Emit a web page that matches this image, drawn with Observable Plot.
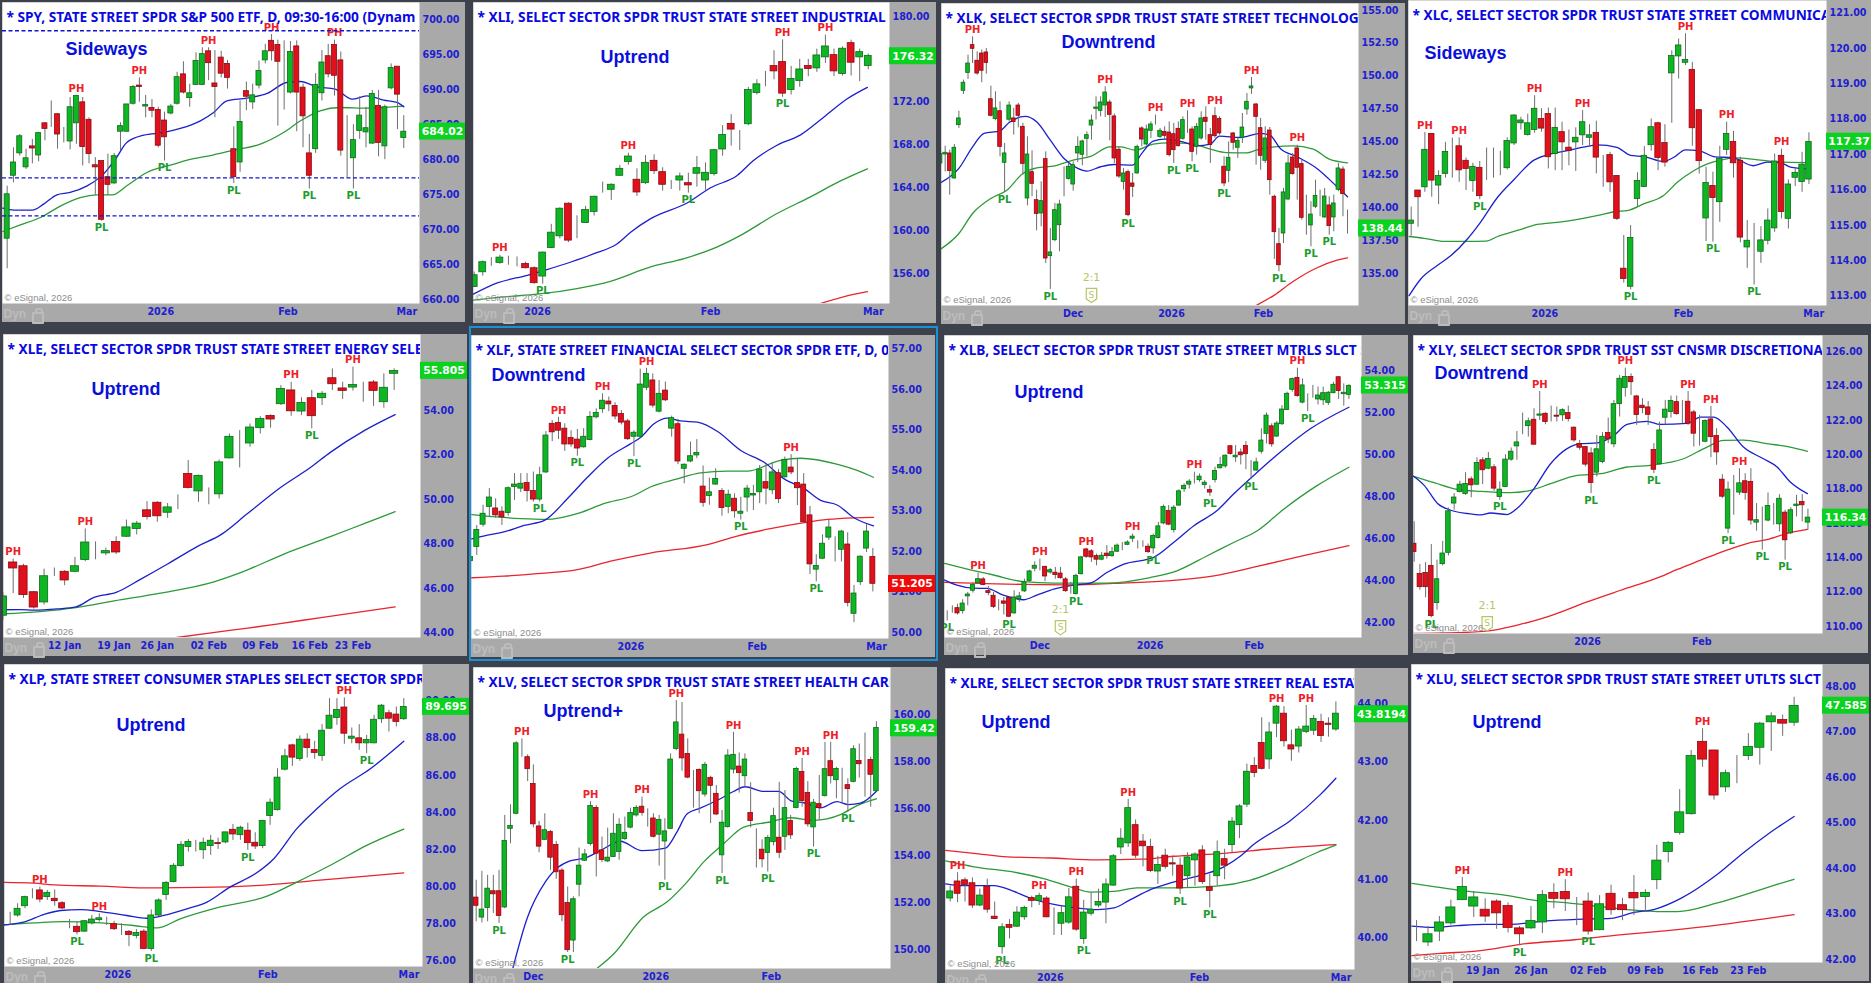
<!doctype html>
<html><head><meta charset="utf-8">
<script src="https://cdn.jsdelivr.net/npm/d3@7"></script>
<script src="https://cdn.jsdelivr.net/npm/@observablehq/plot@0.6"></script>
<style>
html,body{margin:0;padding:0;background:#3c414c;width:1871px;height:983px;overflow:hidden}
.panel{position:absolute}
.panel svg{display:block}
.panel g[aria-label="y-axis tick label"],.panel g[aria-label="x-axis tick label"]{fill:#2020d0;font:bold 9.6px "DejaVu Sans";}
.lock{position:absolute;width:8px;height:8px;border:2px solid #bcbcbc;border-radius:1px}
.lock:before{content:"";position:absolute;left:1px;top:-6px;width:4px;height:4px;border:2px solid #bcbcbc;border-bottom:none;border-radius:3px 3px 0 0}
.sel{position:absolute;left:469px;top:326px;width:465px;height:331px;border:2.5px solid #1d8fd6;pointer-events:none}
</style></head><body><div id="root"></div>
<script>
// [open, high, low, close] per session
const spyCandles=[[668.7,676.2,664.4,675.05],[677.7,681.7,676.7,679.6],[680.9,683.6,680.5,683.35],[678.9,681.5,678.6,680.2],[681.9,682.9,679.4,681.6],[680.6,683.9,679.7,683.8],[685.2,685.3,682.7,684.4],[685.65,688.4,684.6,685.65],[686.5,686.6,681.5,683.6],[683.05,684.6,682.4,683.05],[682.6,688.9,681.4,687.5],[685.2,689.2,682.2,689.1],[688.2,688.9,679.1,681.8],[685.7,686,679.4,680.8],[679.2,680.3,674.9,678.9],[679.8,679.8,671.2,671.4],[677.5,680.8,674.9,676.4],[676.6,680.9,676.5,680.5],[684,685.3,681.3,684.8],[684,687.9,683.9,687.9],[688,690.6,687.8,690.4],[690.6,691.7,688.2,690.4],[687.6,689.2,686,687.8],[687.4,688.6,686,687],[687.1,687.5,681.7,682],[685.6,686.8,679.8,683.2],[686.6,687.9,686.4,687.6],[688,692.5,687.8,691.8],[692.2,694,689.4,689.6],[688.8,690.8,687.5,689.5],[690.7,695.3,690.6,694.1],[690.7,696,690.6,695.1],[695.5,696,691.3,693.8],[690.9,695.6,686,690.4],[694.6,695.5,691.7,692.3],[693.7,694.2,690.1,691.7],[681.5,684.7,676.6,677.5],[679.6,688.4,678.2,685.4],[689.8,691.1,687,689],[688.2,690.8,687.2,689.2],[690.6,694.1,690.1,692.7],[694.2,696.5,693.7,695.5],[697,697.9,694.1,695.5],[696.4,697.1,684.8,694],[691.85,697,687.1,691.85],[689.6,696.9,689.4,695.4],[696.2,697,684,689.6],[690.3,690.8,681.7,686.2],[680.9,683.6,675.8,677.7],[681.5,692.3,680.9,690.7],[689.5,695.6,688.4,693.9],[694.8,696.5,691.7,692.2],[696.4,697.1,689.1,692],[694.2,695.4,680.5,681.3],[681.65,686.3,677.4,681.65],[680.2,685,675.8,682.8],[684.1,689,682.9,686.3],[683.9,687.5,681.7,684.5],[682.3,689.9,682.2,689.4],[687.7,689.9,680.4,682.4],[681.9,687.8,680,687.5],[690.2,693.7,690,693.1],[693.3,693.3,684.3,689.3],[683.1,686.3,681.6,684]];
const xliCandles=[[154.75,156.15,154.69,155.84],[156.12,157.18,155.75,157.06],[157.02,157.49,156.68,157.02],[157,157.71,156.87,157.49],[157.33,157.62,156.78,157.33],[156.93,157.55,156.62,156.93],[156.9,157.06,156.43,156.5],[156.5,156.62,155,155.1],[155.72,158.02,155,157.96],[158.39,160.6,158.33,159.82],[159.48,162.15,159.23,162.06],[162.53,162.62,158.89,159.08],[160.13,161.4,159.26,160.13],[160.72,162.28,160.72,161.94],[161.75,163.24,161.38,163.18],[164.02,164.55,163.52,164.02],[163.83,164.39,162.84,164.3],[165.14,166.1,165.08,165.79],[166.44,167.25,166.13,166.94],[164.77,165.79,163.21,163.58],[164.45,167.03,164.33,166.35],[166.54,167.1,165.26,165.57],[165.48,165.89,163.71,164.3],[164.33,164.7,163.86,164.33],[164.7,165.39,163.71,165.08],[164.45,165.39,163.52,164.24],[165.33,166.94,164.08,165.85],[164.7,166.35,163.77,165.42],[165.3,167.6,165.11,167.53],[167.6,169.83,166.97,168.96],[169.99,170.86,167.91,169.46],[168.37,169.37,167.5,168.37],[169.96,173.41,169.83,173.16],[172.88,174.12,172.69,173.69],[173.88,174.9,173.47,173.88],[175.4,176.83,174.12,174.9],[175.77,177.85,172.48,172.82],[173.16,175.37,172.69,174.19],[174,176.02,173.41,175.08],[175.4,176.02,174.4,175.12],[175.18,176.98,174.81,176.39],[176.21,178.29,175.65,177.23],[176.42,176.98,174.4,174.9],[174.65,177.2,174.47,177.02],[177.54,177.82,174.47,175.71],[176.21,176.98,173.94,176.7],[175.4,176.52,175.06,176.33]];
const xlkCandles=[[143.38,144.52,143.25,144.09],[144.06,144.69,142.74,144.19],[144.14,144.39,140.97,142.8],[142.24,144.82,142.19,144.57],[146.29,147.35,146.04,146.8],[148.9,149.71,148.62,149.51],[150.26,151.61,149.76,150.97],[152.37,153,150.97,152.09],[151.18,151.86,150.09,150.21],[151.73,151.99,149.51,150.42],[151.81,152.11,150.16,151.02],[148.26,149.25,146.92,147],[146.75,148.82,146.62,147.56],[147.35,148.06,143.88,144.64],[143.43,144.9,141.18,144.14],[146.7,148.06,146.52,147.78],[146.8,147.56,145.53,146.52],[147.78,147.94,146.09,147],[146.16,146.42,142.49,143.35],[140.72,145.4,140.16,144.06],[142.72,144.34,140.85,141.83],[140.59,141.35,138.26,139.55],[139.58,141.99,138.57,140.52],[143.71,144.26,135.78,136.16],[136.34,138.44,133.81,136.62],[137.55,140.34,137.43,139.83],[138.69,140.59,136.67,140.26],[141.88,143.13,140.85,141.88],[142.21,143.38,142.11,143.13],[141.78,143.5,141.27,143.25],[144.14,145.4,143.45,144.64],[144.04,145.15,143.2,145.05],[145.25,145.78,143.88,145.53],[146.26,147.05,145.15,146.64],[147.53,148.44,146.67,147.63],[147.38,148.44,146.92,148.01],[147.78,149.2,146.87,148.77],[148.01,148.19,145.1,147.07],[146.95,147.13,143.38,143.76],[144.42,144.64,142.24,142.39],[141.98,143,141.35,142.62],[142.72,142.87,139.33,139.45],[141.86,142.62,140.8,141.61],[142.62,144.77,142.57,144.64],[146.04,146.16,144.64,145.2],[144.82,146.29,144.7,145.96],[145.86,146.54,145.28,146.34],[146.62,147.05,146.29,146.62],[145.4,146.04,145.28,145.86],[145.78,146.16,145.15,145.48],[145.73,146.54,143.88,144.01],[145.6,146.42,143.38,144.39],[146.01,146.54,144.64,144.69],[145.25,146.92,145.15,146.67],[146.52,147.38,145.66,146.52],[145.96,146.16,143.5,144.26],[144.64,146.42,144.01,146.16],[145.28,147.3,145.15,146.8],[146.85,147.68,145.15,146.54],[145.53,146.04,143.38,144.77],[146.97,147.63,145.28,145.45],[146.75,146.92,145.53,145.66],[143.13,143.88,141.61,141.86],[142.82,145.02,141.91,143.81],[145.66,145.73,144.39,144.95],[144.57,145.28,143.76,145.1],[145.33,147.18,144.9,146.11],[147.48,148.69,147.05,148.06],[149.08,149.91,148.62,149.23],[147.86,147.94,143.25,146.92],[146.06,146.8,142.87,143.96],[143.58,146.16,143.38,145.28],[145.88,146.11,140.97,142.11],[140.85,140.97,136.09,138.16],[137.25,138.44,135.15,135.65],[138.06,141.48,137.3,141.18],[140.64,144.01,140.59,143.38],[143.83,144.14,142.49,142.57],[144.52,144.77,140.59,143.05],[143.33,143.63,139.07,139.25],[139.58,140.97,137.93,139.58],[138.67,140.47,137.05,139.5],[140.09,142.11,139.96,140.92],[140.21,141.35,139.33,140.21],[139.28,141.48,139.2,140.87],[140.19,140.85,137.93,138.62],[139.28,140.97,138.19,140.34],[141.38,143.38,141.23,143],[142.92,143.13,139.33,141.05],[138.44,139.84,138.01,138.44]];
const xlcCandles=[[115.05,115.52,114.7,115.14],[115.99,115.99,114.95,115.8],[116.08,117.63,115.94,117.14],[117.59,117.59,115.8,116.27],[116.13,116.55,115.59,116.4],[116.46,117.35,116.34,117.08],[116.85,117.47,116.34,116.85],[117.24,117.48,116.22,116.56],[116.83,116.91,115.99,116.6],[116.26,116.76,115.94,116.66],[116.63,116.81,115.73,115.83],[116.47,117.19,116.27,116.47],[116.54,117.19,116.34,116.54],[116.69,117.1,116.41,116.69],[116.62,117.48,116.57,117.39],[117.32,118.13,117.26,118.11],[117.89,118.06,117.7,117.97],[117.56,118.15,117.53,117.89],[117.7,118.67,117.61,118.3],[118.01,118.3,117.64,117.74],[118.15,118.32,116.6,116.93],[117.02,118.32,116.55,117.76],[117.64,117.92,116.55,117.35],[117.2,117.7,116.69,117.11],[117.35,117.76,116.53,117.48],[117.55,118.25,117.26,117.92],[117.48,117.85,117.21,117.55],[117.62,117.95,116.46,116.92],[116.67,116.98,116.08,116.67],[116.99,117.07,115.94,116.22],[116.4,116.41,115.14,115.19],[113.78,114.72,113.37,113.49],[113.27,115,113.18,114.65],[115.75,116.49,115.52,116.26],[116.09,117.23,116.08,116.97],[117.27,118.01,117.1,117.78],[117.89,117.92,116.55,116.91],[117.33,117.85,116.65,116.78],[119.3,119.94,117.89,119.79],[119.78,120.27,119.14,120.09],[119.6,120.42,119.52,119.68],[119.4,119.61,117.24,117.75],[118.26,118.27,116.46,116.82],[115.2,116.65,114.55,116.2],[116.12,116.51,114.53,115.78],[115.66,117.24,115.09,116.88],[117.14,117.92,116.98,117.59],[117.36,117.66,116.34,116.76],[116.83,116.93,114.51,114.66],[114.38,115.14,113.79,114.57],[114.39,115.06,113.32,114.39],[114.26,114.97,113.93,114.58],[114.57,115.47,114.45,115.14],[114.92,117.02,114.81,116.81],[116.97,117.16,115.19,115.38],[115.19,116.29,114.9,116.16],[116.35,116.6,116.1,116.49],[116.23,117.07,115.94,116.72],[116.3,117.62,116.16,117.36]];
const xleCandles=[[44.77,45.82,44.54,45.64],[47.17,47.32,45.77,46.9],[47,47.09,45.55,45.7],[45.83,45.86,45.07,45.14],[45.37,46.87,45.25,46.55],[46.74,46.92,46.54,46.74],[46.75,46.8,46.12,46.36],[46.75,47.4,46.72,47],[47.28,48.68,47.2,48.07],[47.62,48.1,47.29,47.62],[47.58,47.82,47.47,47.68],[48.09,48.33,47.53,47.62],[48.33,49.08,48.3,48.75],[48.68,49.02,48.41,48.92],[49.52,49.91,49.08,49.22],[49.86,49.91,48.98,49.25],[49.41,49.83,49.16,49.65],[50.04,50.22,49.55,50.04],[51.16,51.76,50.48,50.53],[50.37,51.11,49.88,51.07],[50.09,50.53,49.77,50.09],[50.24,51.79,50.03,51.68],[51.86,52.96,51.83,52.83],[52.27,53.11,51.43,52.27],[52.53,53.41,52.36,53.25],[53.22,53.74,52.96,53.64],[53.77,53.82,53.22,53.61],[54.3,55.14,54.24,54.99],[54.92,55.29,53.76,53.98],[53.97,54.59,53.79,54.36],[54.57,54.92,53.19,53.76],[54.57,54.87,54.24,54.77],[55.47,55.89,54.92,55.2],[55.01,55.29,54.51,54.9],[55.05,55.97,54.89,55.17],[55.1,55.29,54.39,55.1],[55.28,55.37,54.2,54.9],[54.39,55.67,54.12,55.04],[55.67,55.89,54.92,55.8]];
const xlfCandles=[[51.77,51.95,51.73,51.87],[52.12,52.65,51.91,52.54],[52.67,53.15,52.61,52.94],[53.11,53.56,52.86,53.34],[53.07,53.31,52.83,52.9],[52.99,53.11,52.65,52.85],[52.96,53.6,52.88,53.57],[53.6,53.93,53.27,53.66],[53.56,53.93,53.46,53.68],[53.7,53.93,53.23,53.5],[53.5,53.97,53.23,53.29],[53.29,54.09,53.23,53.89],[53.96,54.97,53.93,54.87],[55.16,55.24,54.72,54.95],[55.18,55.32,54.77,54.99],[55.04,55.16,54.48,54.65],[54.81,54.99,54.58,54.65],[54.77,55.02,54.36,54.55],[54.58,55.04,54.56,54.84],[54.76,55.46,54.74,55.33],[55.32,55.53,55.28,55.43],[55.52,55.9,55.42,55.73],[55.71,55.82,55.46,55.64],[55.6,55.68,55.26,55.34],[55.4,55.49,55.13,55.19],[55.22,55.27,54.75,54.78],[54.84,54.99,54.35,54.94],[54.84,56.51,54.81,56.13],[56.05,56.53,55.98,56.39],[56.23,56.39,55.55,55.61],[55.46,56.23,55.43,55.9],[55.98,56.19,55.71,55.74],[55.04,55.35,54.83,55.3],[55.15,55.27,54.15,54.23],[54.05,54.17,53.68,54.15],[54.23,54.71,54.2,54.36],[54.38,54.77,54.3,54.44],[53.61,54.12,53.1,53.21],[53.38,53.82,53.15,53.47],[53.66,54.05,53.64,53.8],[53.5,53.56,52.88,53.08],[53.11,53.52,52.94,53.41],[53.31,53.43,52.83,53],[52.94,53.35,52.78,52.99],[53.34,53.64,52.98,53.56],[53.39,53.64,53.02,53.43],[53.47,54.13,53.19,54.03],[53.72,54.15,53.16,53.56],[53.52,54.2,53.41,53.96],[53.94,54.03,53.19,53.3],[53.84,54.34,53.82,54.27],[54.08,54.4,53.9,53.96],[53.7,54.28,53.14,53.57],[53.66,53.93,52.71,52.73],[52.9,53.12,51.44,51.69],[51.56,51.93,51.26,51.65],[51.83,52.42,51.81,52.2],[52.35,52.78,52.28,52.6],[52.15,52.37,51.75,52.15],[52.05,52.53,51.75,52.5],[52.18,52.47,50.64,50.74],[50.47,51.17,50.25,50.97],[51.25,51.9,51.17,51.88],[52.08,52.67,51.98,52.5],[51.87,52.08,51.01,51.21]];
const xlbCandles=[[42.33,42.57,42.09,42.33],[42.6,42.81,42.46,42.6],[42.7,42.89,42.37,42.45],[42.56,43.1,42.41,42.92],[43.26,43.45,42.81,43.35],[43.53,43.93,43.42,43.8],[43.89,44.37,43.85,44.08],[44.07,44.16,43.77,43.8],[43.51,43.74,43.29,43.42],[43.29,43.45,42.68,42.76],[42.76,43.1,42.57,42.76],[43.02,43.21,42.37,42.91],[43.19,43.21,42.25,42.29],[42.45,43.53,42.41,43.21],[43.13,43.45,42.97,43.26],[43.5,44.08,43.45,43.93],[43.99,44.51,43.93,44.45],[44.58,44.91,44.43,44.72],[44.64,45.04,44.48,44.64],[44.67,44.69,43.96,44.21],[44.4,44.59,44.32,44.51],[44.39,44.64,44.08,44.28],[44.35,44.64,44.08,44.13],[44.07,44.16,43.45,43.51],[43.45,43.93,43.37,43.45],[43.37,44.32,43.32,44.24],[44.32,45.17,44.28,45.12],[45.5,45.55,45.07,45.15],[45.41,45.49,44.88,45.12],[45.18,45.28,44.72,45.01],[45.01,45.36,44.96,45.2],[45.3,45.68,45.04,45.18],[45.18,45.6,45.12,45.37],[45.39,45.76,45.36,45.68],[45.77,45.83,45.44,45.77],[45.72,45.91,45.68,45.83],[46.01,46.23,45.83,46.11],[45.76,45.91,45.52,45.76],[45.79,45.91,45.6,45.79],[45.63,45.76,45.31,45.37],[45.55,46.23,45.28,46.14],[46.04,46.79,45.99,46.6],[46.74,47.62,46.68,47.52],[47.33,47.59,46.63,46.68],[46.42,47.59,46.28,47.49],[47.59,48.35,47.55,48.27],[48.37,48.62,48.22,48.53],[48.59,48.83,48.38,48.73],[48.73,49.18,48.62,48.73],[48.8,49.1,48.7,48.97],[48.57,48.78,48.38,48.68],[48.33,48.54,48.03,48.21],[48.81,49.42,48.67,49.24],[49.37,49.89,49.34,49.53],[49.46,50,49.37,49.97],[50.42,50.45,50,50.05],[49.89,50.45,49.65,49.97],[50.12,50.29,49.53,49.99],[50.43,50.64,49.3,50.04],[49.26,49.74,48.83,49.26],[49.26,49.85,49.23,49.65],[50.16,51.25,50.05,50.69],[51.01,52.01,50.53,51.88],[51.37,51.49,50.37,50.51],[50.88,51.6,50.85,51.5],[51.47,52.36,51.41,52.17],[52.15,53,52.12,52.92],[53.11,53.67,53,53.62],[53.68,54.14,52.76,52.81],[52.5,53.63,52.44,53.32],[52.73,52.92,52.07,52.73],[53.01,53.32,52.71,53.01],[52.65,53.24,52.39,52.84],[52.61,53.24,52.36,52.95],[52.49,53.03,52.36,52.97],[52.95,53.47,52.92,53.35],[53.71,53.75,52.65,53.05],[52.9,53.39,52.33,52.97],[52.87,53.35,52.65,53.3]];
const xlyCandles=[[114.82,116.1,113.74,114.34],[113.06,113.61,112.11,112.29],[113.12,113.72,111.67,112.29],[113.53,114.77,110.5,110.6],[111.36,113.86,110.95,112.75],[113.63,114.96,113.53,114.25],[114.29,116.9,114.11,116.71],[117.16,117.74,116.77,117.51],[117.83,118.46,117.78,118.26],[117.72,118.96,117.64,118.3],[118.57,118.71,117.5,118.22],[118.26,119.83,118.22,119.52],[119.68,119.83,118.26,119.1],[119.19,120.13,119.13,119.76],[119.27,119.42,117.87,118.03],[117.54,118.42,117.35,117.97],[118.13,120,118.09,119.72],[119.72,120.4,119.62,120.18],[120.49,121.36,119.68,120.72],[121.73,122.43,121.17,121.73],[121.67,122.14,121.03,121.95],[122.04,122.68,120.55,120.59],[122.28,123.69,122,122.35],[122.39,122.45,121.75,121.91],[122.35,122.84,121.91,122.35],[122.28,122.78,121.91,122.22],[122.3,122.68,121.95,122.6],[122.43,122.84,121.91,122.08],[121.58,121.62,120.74,120.84],[120.63,120.84,120.26,120.41],[120.45,120.45,119.29,119.43],[120.08,120.4,117.74,118.36],[118.96,121.13,118.71,120.32],[119.58,121.29,119.48,121.05],[121.27,122.14,120.65,120.9],[120.61,123.17,120.41,122.95],[122.95,124.62,122.2,124.43],[123.9,125.05,123.36,124.53],[124.53,124.72,123.46,124.23],[123.4,123.46,121.71,122.32],[122.86,123.27,122.39,122.72],[122.76,123.11,121.71,122.33],[120.28,120.65,118.9,119.13],[119.45,121.9,119.39,121.42],[122.16,123.17,121.75,122.63],[122.49,123.42,122.14,123.13],[123.07,123.42,122.3,122.37],[122.76,123.17,121.81,122.76],[123.09,123.69,121.71,121.81],[122.47,122.59,120.45,121.23],[121.27,122.3,120.51,121.27],[120.76,122.04,120.7,121.97],[122.06,122.82,119.83,121.03],[121.09,121.52,119.39,120.14],[118.55,118.84,117.45,117.56],[115.7,118.42,115.41,117.97],[117.52,118.8,116.48,117.52],[117.8,119.19,117.64,118.34],[118.46,118.9,117.35,117.78],[118.42,119.19,115.9,116.17],[116.05,117.16,115.55,116.19],[116.05,116.96,114.44,116.05],[116.17,117.78,116.09,117.02],[116.34,117.16,115.9,116.34],[115.95,117.68,115.51,117.44],[116.63,116.77,113.86,115.02],[115.43,116.92,115.35,116.77],[117.02,117.64,116.38,117.1],[117.25,117.68,116.09,117.06],[116.05,116.83,115.6,116.34]];
const xlpCandles=[[78.21,78.63,77.91,78.21],[78.45,79.08,78.36,78.81],[78.95,79.49,78.81,79.44],[79.65,79.89,79.35,79.65],[79.8,79.98,79.13,79.31],[79.44,79.8,79.26,79.67],[79.35,79.83,78.95,79.22],[79.11,79.2,78.77,78.83],[77.98,78.23,77.73,77.98],[77.84,78.09,77.4,77.55],[77.58,78.18,77.55,78.14],[78.02,78.45,77.94,78.23],[78.2,78.54,78.09,78.3],[78.18,78.36,77.91,78.18],[77.98,78.14,77.64,77.71],[77.71,78,77.37,77.71],[77.57,77.64,76.77,77.4],[77.35,77.69,77.19,77.51],[77.58,77.69,76.61,76.65],[76.65,78.75,76.51,78.45],[78.45,79.35,78.39,79.26],[79.56,80.28,79.26,80.21],[80.25,81.24,80.21,81.13],[81.11,82.44,81.06,82.26],[82.14,82.55,81.87,82.41],[82.21,82.5,81.87,82.21],[81.97,82.62,81.47,82.37],[82.19,82.77,81.69,82.48],[82.35,82.62,82.01,82.3],[82.39,82.94,82.32,82.93],[83.07,83.36,82.5,82.82],[82.78,83.27,82.5,83.18],[83.02,83.43,81.96,82.35],[82.37,82.91,82.01,82.17],[82.19,83.58,82.05,83.54],[83.81,84.74,83.31,84.53],[84.13,86.36,84.08,85.88],[86.31,87.41,86.24,87.03],[87.62,87.68,86.49,86.96],[86.89,88.13,86.76,87.93],[87.93,88.25,86.94,87.48],[87.37,87.84,86.87,87.21],[87.05,88.74,86.76,88.41],[88.52,90.14,88.49,89.22],[89.1,90.14,88.7,89.53],[89.66,90.18,87.68,88.25],[87.98,88.56,87.71,88.09],[88,88.74,87.35,87.73],[87.73,88.16,87.17,87.91],[87.73,89.24,87.71,89],[89.03,89.82,88.8,89.76],[89.35,89.51,88.34,89.06],[89.28,89.69,88.61,88.88],[89.03,90.14,88.97,89.69]];
const xlvCandles=[[152.21,152.95,151.18,151.86],[151.36,153.33,151.13,151.7],[151.77,153.16,151.18,152.59],[152.48,153.16,151.53,152.35],[152.48,153.37,151.11,151.43],[151.79,155.71,151.74,154.62],[155.14,156.16,154.5,155.26],[155.78,158.85,155.74,158.78],[158.41,158.97,158.19,158.41],[158.19,158.29,157.15,157.68],[157.05,157.86,155.18,155.33],[155.24,155.45,154.12,154.38],[154.67,155.78,154.65,155.08],[155,155.07,153.37,153.91],[154.45,154.6,152.99,153.29],[153.36,153.44,151.18,151.46],[151.98,152.66,149.87,149.97],[150.38,152.24,149.87,152.14],[152.76,154.32,152.24,153.57],[153.78,154.26,153.75,154.05],[154.49,156.3,154.41,156.11],[156.03,156.13,153.09,154.08],[154.22,154.79,153.7,153.81],[153.75,155.17,153.7,153.91],[153.94,155.78,153.92,154.93],[154.15,155.57,153.8,155.31],[154.7,155.64,154.65,154.97],[155.19,156.02,155.14,155.81],[155.71,156.13,155.64,156.03],[156.08,156.49,155.68,155.82],[155.67,155.99,155.21,155.67],[155.58,155.78,154.75,154.8],[154.89,155.71,153.55,155.52],[154.6,155.57,152.95,155.03],[155.14,158.33,155.11,158.09],[158.54,160.6,158.47,159.67],[159.15,160.52,157.59,158.14],[158.33,158.97,157.27,157.32],[157.38,157.62,156.02,157.38],[157.65,157.69,155.78,156.74],[156.6,157.97,156.49,157.86],[157.31,157.38,155.36,156.97],[156.63,156.98,155.71,155.75],[154.01,155.92,153.23,155.4],[155.21,158.51,155.17,158.26],[157.66,159.25,157.48,158.29],[157.79,158.37,156.66,157.51],[157.38,158.33,156.91,158.09],[155.81,157.1,155.18,155.47],[154.29,155.14,153.47,154.29],[154.25,154.67,153.48,153.84],[154.11,154.86,153.3,154.75],[154.57,156.02,154.41,155.68],[154.76,157.12,153.87,154.12],[154.8,156.77,154.22,156.02],[155.47,155.71,154.69,154.86],[156.03,157.76,155.99,157.69],[157.56,158.14,156.06,156.32],[156.67,157.15,155.21,155.33],[155.2,156.39,154.36,156.25],[156.19,157.41,155.5,156.02],[156.54,158.82,156.49,157.68],[158.02,158.82,157.05,157.38],[157.21,157.76,156.42,157.69],[157.24,157.72,156.2,157.24],[157,157.27,155.85,156.83],[157.14,158.68,157.1,158.53],[158.03,158.75,157.3,157.89],[157.86,159.22,156.49,157.86],[158.07,158.19,156.06,157.44],[156.74,159.7,156.73,159.43]];
const xlreCandles=[[40.68,40.89,40.62,40.8],[40.97,41.12,40.61,40.76],[40.99,41.03,40.62,40.91],[40.94,41.03,40.51,40.56],[40.56,40.84,40.54,40.73],[40.88,41.01,40.43,40.49],[40.37,40.62,40.32,40.33],[39.85,40.25,39.73,40.19],[40.23,40.32,39.99,40.18],[40.2,40.54,40.19,40.44],[40.36,40.55,40.31,40.52],[40.69,40.72,40.52,40.64],[40.64,40.77,40.56,40.72],[40.68,40.71,40.35,40.36],[40.37,40.52,40.05,40.37],[40.25,40.55,40.05,40.43],[40.27,40.85,40.24,40.7],[40.88,41.01,40.12,40.15],[39.99,40.65,39.9,40.44],[40.42,40.78,40.38,40.49],[40.56,40.84,40.52,40.62],[40.61,41.01,40.25,40.92],[40.9,41.43,40.89,41.4],[41.55,41.87,41.43,41.7],[41.62,42.37,41.55,42.22],[41.93,42.02,41.36,41.41],[41.65,41.77,41.22,41.57],[41.56,41.69,41.12,41.15],[41.14,41.4,40.92,41.25],[41.41,41.52,41.18,41.22],[41.28,41.4,41.06,41.26],[41.24,41.37,40.75,40.85],[41.06,41.46,40.85,41.38],[41.33,41.46,40.89,41.43],[41.5,41.58,40.92,40.96],[40.87,41.09,40.52,40.81],[41.06,41.66,40.89,41.47],[41.35,41.52,41,41.24],[41.59,42.06,41.46,41.99],[41.93,42.28,41.7,42.25],[42.28,42.97,42.23,42.84],[42.94,43.08,42.74,42.82],[43.33,43.76,42.87,42.89],[43.05,43.68,42.88,43.51],[43.66,43.97,43.42,43.95],[43.83,43.95,43.26,43.36],[43.29,43.55,43.02,43.22],[43.27,43.61,43.16,43.56],[43.52,43.97,43.49,43.61],[43.54,43.8,43.46,43.74],[43.69,43.82,43.34,43.45],[43.66,43.76,43.43,43.64],[43.56,44.03,43.53,43.83]];
const xluCandles=[[42.49,42.86,42.4,42.49],[42.38,42.73,42.29,42.56],[42.62,42.95,42.4,42.82],[42.8,43.31,42.76,43.15],[43.31,43.81,43.3,43.6],[43.17,43.5,42.93,43.37],[43.1,43.34,42.82,42.95],[43.28,43.32,42.67,43.02],[43.18,43.25,42.59,42.7],[42.69,42.73,42.31,42.56],[42.69,43.17,42.67,42.85],[42.82,43.52,42.58,43.42],[43.47,43.67,43.12,43.34],[43.49,43.76,43.06,43.33],[43.23,43.37,42.75,43.23],[43.28,43.47,42.54,42.62],[42.65,43.41,42.64,43.22],[43.45,43.64,42.98,43.09],[43.2,43.35,42.86,43.09],[43.47,43.85,42.97,43.35],[43.38,43.54,43.04,43.47],[43.75,44.52,43.54,44.18],[44.37,44.6,44.13,44.57],[44.79,45.74,44.74,45.24],[45.2,46.6,45.18,46.48],[46.79,47.08,46.23,46.4],[46.6,46.6,45.51,45.61],[45.79,46.17,45.68,46.1],[46.32,46.49,45.87,46.32],[46.48,46.97,46.38,46.68],[46.66,47.22,46.28,47.19],[47.22,47.43,46.58,47.35],[47.27,47.38,46.91,47.19],[47.21,47.77,47.13,47.58]];

// moving averages: [session position, price]
const spyBlue=[[-0.7,673.06],[1.1,672.78],[4,672.78],[5.8,673.64],[7.9,674.97],[10,675.31],[12.7,676.26],[15.3,677.94],[17.2,680.07],[19,682.46],[21.7,683.51],[24.9,683.89],[27.5,684.46],[30.7,685.56],[32.8,686.75],[34.9,688.42],[38.1,688.8],[41.3,689.47],[44.4,691.04],[46.6,691.18],[49.2,690.42],[52.1,690.09],[54.8,688.65],[57.1,689.13],[59.8,688.51],[61.9,688.18],[63,687.56]];
const spyGreen=[[-0.7,669.73],[2.1,670.68],[5.3,671.73],[8.5,673.4],[11.6,674.59],[14.3,674.97],[16.7,674.97],[19,676.26],[22.2,678.17],[26.5,679.36],[28.6,679.93],[32.8,680.69],[36,681.36],[40.2,682.22],[43.9,683.89],[46.6,685.56],[49.7,686.99],[52.9,687.46],[57.2,687.37],[63,687.65]];
const xliBlue=[[-0.1,154.07],[2.7,155.12],[6.2,155.84],[8.5,156.37],[11.3,157.08],[14,157.86],[16.7,158.79],[18.3,159.88],[20.6,161.13],[24.9,162.62],[27.6,164.02],[30.7,165.17],[32.6,166.57],[35.3,167.97],[38.1,168.96],[40.8,170.61],[43.5,172.32],[45.9,173.41]];
const xliGreen=[[-0.1,153.51],[3.5,153.82],[7.4,154.07],[12,154.6],[15.9,155.28],[20.6,156.62],[24.5,157.4],[27.6,158.23],[31.1,159.57],[35.3,161.59],[39.2,163.15],[42.7,164.64],[45.9,165.79]];
const xliRed=[[40.4,153.2],[43.1,153.82],[45.9,154.3]];
const xlkBlue=[[0,141.91],[4,143],[7,144.64],[9.5,145.66],[13,145.86],[15,146.49],[18.5,146.95],[21,146.54],[24,145.15],[27,143.76],[30,143],[32,142.8],[35,143.13],[38,143.3],[42,143.25],[44,144.14],[46.5,145.08],[49,145.23],[53,145.02],[56,144.72],[59,144.85],[61,145.45],[65.5,145.35],[70,145.66],[72,145.53],[74.3,144.52],[78,143.88],[82.3,143],[86.7,141.61],[89,140.85]];
const xlkGreen=[[0,136.87],[4,138.06],[7,139.58],[11,140.72],[14.5,141.35],[18,142.62],[21,143.05],[25,143.2],[29,143.63],[33,143.94],[37,144.64],[39.5,144.64],[42.5,144.39],[46.5,144.85],[50,144.95],[54.5,144.9],[59,144.47],[62.5,144.21],[67,144.19],[69,144.39],[73,144.64],[77,144.72],[81.5,144.47],[85,143.71],[89,143.43]];
const xlkRed=[[69,132.59],[73,133.38],[77,134.39],[82,135.4],[86.7,136.03],[89,136.21]];
const xlcBlue=[[-0.3,113.02],[1.4,113.49],[3.8,113.87],[5.8,114.15],[8.2,114.62],[10.1,115.09],[12.6,115.8],[15,116.3],[17.9,116.85],[19.9,117],[22.8,117.12],[25.7,117.24],[27.1,117.28],[30,117.21],[32,116.98],[33.9,116.95],[36.8,116.81],[38.3,116.93],[40,117.14],[41.9,117.12],[44.1,116.95],[47,116.91],[49.9,116.69],[51.9,116.79],[53.8,116.78],[55.3,116.65],[57.7,116.6]];
const xlcGreen=[[-0.3,114.69],[1.9,114.64],[4.8,114.55],[8.2,114.55],[10.9,114.56],[12.6,114.69],[15.5,114.86],[18.4,115.03],[21.3,115.09],[24.7,115.19],[27.6,115.3],[29.6,115.39],[31.5,115.42],[33.9,115.61],[36.8,115.85],[38.8,116.22],[41.2,116.55],[43.2,116.74],[45.1,116.85],[47.5,116.91],[50,116.87],[53.4,116.8],[57.7,116.78]];
const xleBlue=[[0,45.04],[1.7,45.05],[3,45.02],[5.3,45.08],[7.1,45.17],[8.8,45.59],[11,45.82],[13.4,46.42],[16,47.1],[19,47.92],[21.1,48.4],[23.7,49.35],[27,50.56],[29.9,51.46],[31.8,52.13],[35.1,53.11],[38.1,53.83]];
const xleGreen=[[0,44.86],[3.6,44.96],[7.1,45.14],[10.8,45.44],[15.3,45.79],[20.5,46.3],[23.4,46.77],[27.3,47.55],[31.8,48.33],[35.4,48.98],[38.1,49.46]];
const xleRed=[[16.9,43.79],[22.4,44.13],[26.6,44.39],[30.9,44.69],[38.1,45.17]];
const xlfBlue=[[0.2,52.32],[2.7,52.41],[5.3,52.49],[8.5,52.65],[11.9,52.79],[15.4,53.31],[18.6,53.84],[21.8,54.31],[25.5,54.67],[27.1,54.83],[29.2,55.16],[31.3,55.3],[33.4,55.23],[36.1,55.2],[39.3,54.97],[43,54.5],[46.7,54.21],[49.9,53.8],[53.1,53.56],[55.7,53.27],[58.4,53.15],[61,52.84],[64.1,52.64]];
const xlfGreen=[[0.2,52.92],[4.2,52.86],[8,52.82],[11.9,52.8],[17.5,52.97],[21.2,53.19],[26,53.39],[28.6,53.6],[32.9,53.8],[36.6,53.95],[40.8,53.99],[44,53.99],[49.3,54.26],[52.5,54.31],[58.4,54.16],[61.5,54.01],[64.1,53.84]];
const xlfRed=[[0.2,51.36],[5.3,51.4],[10.6,51.46],[17,51.56],[22.3,51.77],[28.6,51.97],[37.7,52.18],[42.4,52.39],[47.7,52.57],[53.1,52.72],[56.8,52.8],[61,52.84],[64.1,52.85]];
const xlbBlue=[[-0.5,44.04],[1.9,43.8],[5.1,43.65],[7.7,43.64],[10.9,43.32],[14.8,43.1],[17.4,43.32],[20.7,43.61],[24.5,43.8],[27.8,43.89],[31,44.4],[34.3,44.8],[40.1,45.12],[44,45.84],[47.9,46.63],[52.4,47.35],[55.6,48.14],[60.2,49.18],[65.4,50.29],[70.5,51.25],[78,52.28]];
const xlbGreen=[[-0.5,44.83],[4.5,44.53],[9,44.28],[14.8,43.96],[20.7,43.89],[31,43.89],[39.4,44.16],[44.6,44.48],[50.5,45.2],[55.6,45.83],[60.2,46.39],[65.4,47.43],[71.8,48.54],[78,49.42]];
const xlbRed=[[-0.5,43.93],[6.4,43.88],[14.8,43.83],[24.5,43.81],[32.3,43.88],[42.7,44],[51.8,44.24],[60.2,44.69],[69.2,45.2],[78,45.68]];
const xlyBlue=[[-0.1,118.75],[1.75,118.22],[4.1,117.16],[6.4,116.77],[9.3,116.58],[11.7,116.5],[13.4,116.61],[16.3,116.52],[18.1,116.9],[21,118.03],[23.9,119.48],[26.8,120.36],[29.2,120.65],[32.1,120.69],[35,121.13],[37.3,121.77],[40.8,121.95],[43.1,121.77],[47.8,121.83],[50.2,122.2],[52.5,122.2],[54.8,121.62],[57.7,120.45],[61.2,119.77],[63.6,119.29],[65.9,118.42],[68.9,117.74]];
const xlyGreen=[[-0.1,118.75],[3.5,118.38],[7.6,117.99],[11.7,117.87],[16.9,117.8],[20.4,117.93],[23.9,118.32],[28.6,118.8],[32.7,118.9],[37.3,119.29],[41.4,119.39],[47.2,119.77],[51.3,120.45],[54.2,120.84],[57.7,120.86],[61.8,120.65],[65.9,120.45],[68.9,120.2]];
const xlyRed=[[-0.1,109.59],[8.7,109.65],[14,109.79],[18.1,110.08],[23.3,110.56],[30.3,111.43],[36.2,112.11],[43.1,112.89],[46.1,113.32],[50.2,113.86],[54.2,114.38],[58.3,114.83],[61.8,115.06],[65.9,115.47],[68.9,115.66]];
const xlpBlue=[[-0.8,77.94],[1.8,78.09],[4.5,78.5],[6.8,78.72],[9.5,78.77],[12.2,78.66],[15.7,78.45],[18.4,78.3],[20.7,78.45],[23.8,78.81],[26.5,79.17],[29.6,79.98],[33.2,80.75],[35.5,81.51],[38.6,83.13],[41.3,84.2],[44.4,85.28],[48.5,86.36],[53,87.84]];
const xlpGreen=[[-0.8,77.94],[3.2,78.05],[7.2,78.12],[12.2,78.05],[16.6,77.91],[19.8,77.78],[22.9,78.27],[27.8,78.86],[34.6,79.49],[38.6,80.25],[43.5,81.24],[48,82.23],[53,83.11]];
const xlpRed=[[-0.8,80.23],[3.2,80.19],[5.9,80.1],[12.2,80.03],[18,79.94],[25.6,79.96],[34.6,80.1],[41.3,80.34],[48,80.57],[53,80.75]];
const xlvBlue=[[6.4,149.19],[8.9,151.32],[12.1,152.88],[14.4,153.51],[16.4,153.77],[19.1,153.9],[22.3,154.29],[25.2,154.61],[29,154.21],[33.1,154.32],[35.1,155],[36.9,155.78],[39.2,156.02],[42.7,156.42],[45,156.73],[47,156.93],[50.3,156.73],[52.9,156.73],[55.2,156.32],[57.3,156.25],[60.2,156.03],[63.1,156.3],[65.1,156.17],[67.2,156.23],[70,156.74]];
const xlvGreen=[[21.1,149.19],[24,149.8],[29.3,151.39],[33.4,152.03],[36.9,152.88],[39.8,153.73],[43.3,154.51],[46.8,155.21],[51.4,155.43],[54.9,155.61],[59,155.5],[63.7,155.74],[66.6,156.13],[70,156.42]];
const xlreBlue=[[-0.6,40.93],[1.4,40.9],[5.9,40.9],[8.4,40.81],[10.9,40.68],[14,40.58],[17.1,40.52],[19.8,40.49],[22.1,40.52],[24.3,40.66],[27,40.83],[30.1,40.96],[34.2,41.09],[36.9,41.22],[39.1,41.4],[40.9,41.6],[45.8,42],[49.9,42.45],[52,42.73]];
const xlreGreen=[[-0.6,41.32],[3.2,41.22],[8.6,41.13],[12.6,41.02],[16.7,40.86],[18.9,40.79],[22.1,40.8],[25.2,40.86],[30.1,40.86],[35.9,40.89],[40.4,40.99],[45.4,41.23],[49.4,41.46],[52,41.59]];
const xlreRed=[[-0.6,41.5],[3.2,41.45],[7.7,41.39],[13.5,41.37],[19.8,41.34],[25.7,41.35],[30.1,41.4],[36.9,41.45],[43.6,41.53],[52,41.6]];
const xluBlue=[[-0.4,42.74],[1.5,42.71],[3.6,42.75],[5.9,42.78],[8.2,42.78],[11.1,42.85],[14,42.89],[17,42.91],[19,43.04],[20.8,43.11],[23.1,43.35],[26.3,43.88],[28.6,44.36],[30.7,44.76],[33,45.15]];
const xluGreen=[[-0.4,43.68],[1.5,43.61],[3.6,43.53],[7.4,43.43],[10.6,43.3],[13.2,43.25],[16.1,43.17],[19,43.09],[21.05,43.06],[22.8,43.06],[26.3,43.25],[29.2,43.47],[31.3,43.64],[33,43.77]];
const xluRed=[[-0.4,42.09],[2.1,42.14],[5.6,42.2],[9.1,42.34],[13.8,42.44],[17.5,42.54],[21.9,42.64],[26.3,42.76],[30.1,42.89],[33,42.99]];

const spyLevels=[698.43,677.4,671.96];

const titles=["* SPY, STATE STREET SPDR S&P 500 ETF, D, 09:30-16:00 (Dynam","* XLI, SELECT SECTOR SPDR TRUST STATE STREET INDUSTRIAL S","* XLK, SELECT SECTOR SPDR TRUST STATE STREET TECHNOLOGY","* XLC, SELECT SECTOR SPDR TRUST STATE STREET COMMUNICA","* XLE, SELECT SECTOR SPDR TRUST STATE STREET ENERGY SELE","* XLF, STATE STREET FINANCIAL SELECT SECTOR SPDR ETF, D, 09","* XLB, SELECT SECTOR SPDR TRUST STATE STREET MTRLS SLCT S","* XLY, SELECT SECTOR SPDR TRUST SST CNSMR DISCRETIONAR","* XLP, STATE STREET CONSUMER STAPLES SELECT SECTOR SPDR","* XLV, SELECT SECTOR SPDR TRUST STATE STREET HEALTH CARE","* XLRE, SELECT SECTOR SPDR TRUST STATE STREET REAL ESTAT","* XLU, SELECT SECTOR SPDR TRUST STATE STREET UTLTS SLCT S"];
const trends=["Sideways","Uptrend","Downtrend","Sideways","Uptrend","Downtrend","Uptrend","Downtrend","Uptrend","Uptrend+","Uptrend","Uptrend"];
const lastLabels=["684.02","176.32","138.44","117.37","55.805","51.205","53.315","116.34","89.695","159.42","43.8194","47.585"];
const lastValues=[684.02,176.32,138.44,117.37,55.805,51.205,53.315,116.34,89.695,159.42,43.8194,47.585];

const candleSets=[spyCandles,xliCandles,xlkCandles,xlcCandles,xleCandles,xlfCandles,xlbCandles,xlyCandles,xlpCandles,xlvCandles,xlreCandles,xluCandles];
const blueSets=[spyBlue,xliBlue,xlkBlue,xlcBlue,xleBlue,xlfBlue,xlbBlue,xlyBlue,xlpBlue,xlvBlue,xlreBlue,xluBlue];
const greenSets=[spyGreen,xliGreen,xlkGreen,xlcGreen,xleGreen,xlfGreen,xlbGreen,xlyGreen,xlpGreen,xlvGreen,xlreGreen,xluGreen];
const redSets=[[],xliRed,xlkRed,[],xleRed,xlfRed,xlbRed,xlyRed,xlpRed,[],xlreRed,xluRed];

const phSessions=[[11,21,32,42,52],[3,18,36,41],[7,36,47,54,60,68,78],[2,7,18,25,40,46,54],[1,8,28,34],[14,21,28,51],[6,18,27,36,48,68],[22,37,48,52,57],[4,12,45],[8,20,29,35,45,57,62],[1,12,17,24,44,48],[4,13,25]];
const plSessions=[[15,25,36,48,55],[8,25,36],[14,24,41,51,55,62,74,81,85],[10,32,44,50],[30],[11,17,26,43,55],[0,12,25,40,51,59,70],[3,15,31,42,55,61,65],[9,19,32,48],[4,16,33,43,51,59,65],[7,18,31,35],[9,15]];

const yTicks=[d3.range(660,701,5),d3.range(156,181,4),d3.range(135,155.1,2.5),d3.range(113,122),d3.range(44,55,2),d3.range(50,58),d3.range(42,55,2),d3.range(110,127,2),d3.range(76,91,2),d3.range(150,161,2),d3.range(40,45),d3.range(42,49)];
const xTickAt=[[24.4,44.6,63.5],[7.4,27.6,46.6],[29,50.5,70.6],[19.5,39.7,58.7],[6,10.8,15,20,25,29.8,34],[25.5,45.6,64.6],[18,39.4,59.6],[30.4,50.4],[14.5,34.7,53.7],[10,31.4,51.6],[13.5,33.6,52.7],[5.8,10,15,20,24.8,29]];
const xTickText=[["2026","Feb","Mar"],["2026","Feb","Mar"],["Dec","2026","Feb"],["2026","Feb","Mar"],["12 Jan","19 Jan","26 Jan","02 Feb","09 Feb","16 Feb","23 Feb"],["2026","Feb","Mar"],["Dec","2026","Feb"],["2026","Feb"],["2026","Feb","Mar"],["Dec","2026","Feb"],["2026","Feb","Mar"],["19 Jan","26 Jan","02 Feb","09 Feb","16 Feb","23 Feb"]];

// scale domains
const xDomains=[[-0.742,65.5],[-0.08,48.48],[0.2,91.4],[-0.39,60.56],[0.06,40.56],[0.16,66.49],[-0.52,80.44],[-0.12,71.55],[-0.76,55.52],[-0.47,72.46],[-0.63,54.51],[-0.44,35.48]];
const yDomains=[[659.43,702.48],[153.2,181.34],[132.59,155.53],[112.74,121.36],[43.79,57.44],[49.86,57.34],[41.3,55.7],[109.59,126.95],[75.7,91.98],[149.19,162.01],[39.47,44.6],[41.94,48.49]];

// setup markers: session, price of label, price of shield
const setupMarks={2:[33,134.69,133.38],6:[22,42.65,41.78],7:[12.8,111.2,110.17]};

// layout of the panels: left, white right, top, white bottom, grey right, strip bottom
const layout=[[2,419,2,303,465,322],[473,889,2,303,936,323],[941,1358,3,305,1405,324],[1408,1826,0,305,1871,324],[3,420,334,637,467,656],[471,888,335,638,935,657],[944,1361,335,637,1408,655],[1413,1822,335,633,1868,653],[4,422,664,966,469,990],[473,890,667,968,937,990],[945,1354,668,969,1408,990],[1411,1822,664,962,1869,981]];
const trendPos=[[63,47],[127,55],[120,39],[16,53],[88,55],[20,40],[70,57],[21,38],[112,61],[70,44],[36,54],[61,58]];

const GREEN="#0fb624",RED="#e0101c",DOJI="#222",GREEN_E="#0b6b16",RED_E="#8a0a10";
const shield={draw(c,s){const r=Math.sqrt(s);c.moveTo(-r*.42,-r*.55);c.lineTo(r*.42,-r*.55);c.lineTo(r*.42,r*.3);c.lineTo(0,r*.6);c.lineTo(-r*.42,r*.3);c.closePath();}};
const root=document.getElementById("root");

candleSets.forEach((set,p)=>{
  const [L,R,T,B,G,S]=layout[p];
  const rows=set.map(([o,h,l,c],i)=>{
    const d=o===c;
    return {i,o,h,l,c,x1:i-.4,x2:i+.4,fill:d?DOJI:(c>o?GREEN:RED),edge:d?DOJI:(c>o?GREEN_E:RED_E)};
  });
  const mr=G-R, xMax=xDomains[p][1], last=lastValues[p], lastUp=p!==5;
  const text0={fontFamily:"'Liberation Sans'"};
  const ma=(data,stroke)=>Plot.line(data,{x:d=>d[0],y:d=>d[1],stroke,strokeWidth:1.3,curve:"monotone-x",clip:"frame"});
  const marks=[
    Plot.frame({fill:"#fff",stroke:"none"}),
    ma(redSets[p],"#e8242c"),ma(greenSets[p],"#2c9a38"),ma(blueSets[p],"#1c20cc"),
    Plot.ruleX(rows,{x:"i",y1:"l",y2:"h",stroke:"#6e6e6e",strokeWidth:1,clip:"frame"}),
    Plot.rect(rows,{x1:"x1",x2:"x2",y1:"o",y2:"c",fill:"fill",stroke:"edge",strokeWidth:.8,clip:"frame"}),
    Plot.text(phSessions[p].map(i=>rows[i]),{x:"i",y:"h",text:()=>"PH",dy:-7,fill:"#ee2028",fontFamily:"DejaVu Sans",fontWeight:"bold",fontSize:10,clip:"frame"}),
    Plot.text(plSessions[p].map(i=>rows[i]),{x:"i",y:"l",text:()=>"PL",dy:7,fill:"#1e9c2e",fontFamily:"DejaVu Sans",fontWeight:"bold",fontSize:10,clip:"frame"})
  ];
  if(p===0) marks.push(Plot.ruleY(spyLevels,{stroke:"#1414d0",strokeWidth:1.4,strokeDasharray:"4,2.5",clip:"frame"}));
  if(setupMarks[p]){
    const [i,a,b]=setupMarks[p];
    marks.push(
      Plot.text([i],{x:d=>d,y:()=>a,text:()=>"2:1",fill:"#b4c765",fontFamily:"DejaVu Sans",fontSize:11}),
      Plot.dot([i],{x:d=>d,y:()=>b,symbol:shield,r:7,stroke:"#b4c765",strokeWidth:1.2,fill:"none"}),
      Plot.text([i],{x:d=>d,y:()=>b,text:()=>"S",fill:"#b4c765",fontFamily:"DejaVu Sans",fontSize:9})
    );
  }
  marks.push(
    Plot.text([titles[p]],{frameAnchor:"top-left",dx:4,dy:15,lineAnchor:"middle",textAnchor:"start",text:d=>d,fill:"#0a0ae0",fontFamily:"Noto Sans",fontWeight:"bold",fontSize:13.7,clip:"frame"}),
    Plot.text([trends[p]],{frameAnchor:"top-left",dx:trendPos[p][0],dy:trendPos[p][1],lineAnchor:"middle",textAnchor:"start",text:d=>d,fill:"#0a10dc",...text0,fontWeight:"bold",fontSize:18}),
    Plot.text(["© eSignal, 2026"],{frameAnchor:"bottom-left",dx:2,dy:-5.5,lineAnchor:"middle",textAnchor:"start",text:d=>d,fill:"#8c8c8c",...text0,fontSize:9.5}),
    Plot.text(["Dyn"],{frameAnchor:"bottom-left",dx:1,dy:11,lineAnchor:"middle",textAnchor:"start",text:d=>d,fill:"#bcbcbc",...text0,fontWeight:"bold",fontSize:12}),
    Plot.axisY({anchor:"right",ticks:yTicks[p],tickFormat:d3.format(".2f"),tickSize:0,tickPadding:3,label:null}),
    Plot.axisX({anchor:"bottom",ticks:xTickAt[p],tickFormat:d=>xTickText[p][xTickAt[p].indexOf(d)],tickSize:0,tickPadding:5,label:null}),
    Plot.rect([last],{x1:()=>xMax,x2:()=>xMax,y1:d=>d,y2:d=>d,insetRight:-mr,insetTop:-8.5,insetBottom:-8.5,fill:lastUp?"#0bd21f":"#f00a0a"}),
    Plot.text([lastLabels[p]],{x:()=>xMax,y:()=>last,dx:mr/2,text:d=>d,fill:"#fff",fontFamily:"DejaVu Sans",fontWeight:"bold",fontSize:10.8})
  );
  const svg=Plot.plot({
    width:G-L,height:S-T,marginLeft:0,marginRight:mr,marginTop:0,marginBottom:S-B,
    x:{domain:xDomains[p],axis:null},y:{domain:yDomains[p],axis:null},
    style:{background:"#a9a9a9",maxWidth:"none",overflow:"visible"},
    marks
  });
  const div=document.createElement("div");
  div.className="panel";
  div.style.cssText=`left:${L}px;top:${T}px;width:${G-L}px;height:${S-T}px`;
  div.appendChild(svg);
  const lock=document.createElement("div");
  lock.className="lock";
  lock.style.left="30px";
  lock.style.top=(B-T+9)+"px";
  div.appendChild(lock);
  root.appendChild(div);
});
const sel=document.createElement("div");sel.className="sel";root.appendChild(sel);
</script></body></html>
